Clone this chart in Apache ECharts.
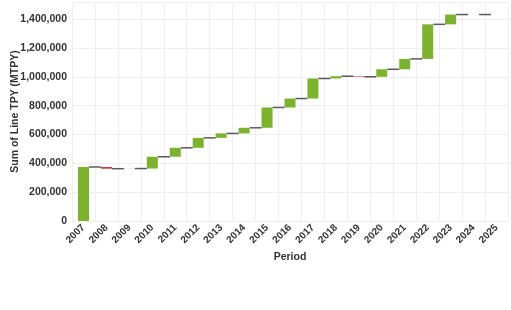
<!DOCTYPE html>
<html>
<head>
<meta charset="utf-8">
<script src="https://cdn.jsdelivr.net/npm/echarts@6/dist/echarts.min.js"></script>
<style>html,body{margin:0;padding:0;background:#fff}#c{width:511px;height:310px}</style>
</head>
<body>
<div id="c"></div>
<script>
const periods = ['2007','2008','2009','2010','2011','2012','2013','2014','2015','2016','2017','2018','2019','2020','2021','2022','2023','2024','2025'];
const changes = [375000,-12000,1000,82000,62000,69000,31000,39000,141000,62000,139000,16000,-4000,52000,72000,240000,68000,0,0];
const yTicks = [0,200000,400000,600000,800000,1000000,1200000,1400000];

const GREEN = '#7DB22F', RED = '#D2343F';
const BAR_FRAC = 0.48;
const FONT = 'Liberation Sans, Arial, sans-serif';

const cum = [];
let run = 0;
changes.forEach(c => { run += c; cum.push(run); });
const base = changes.map((c, i) => Math.min(i ? cum[i-1] : 0, cum[i]));
const delta = changes.map((c, i) => ({value: Math.abs(c), itemStyle: {color: c >= 0 ? GREEN : RED}}));
const connectors = cum.slice(0, -1).map((v, i) => [i, v]);

const chart = echarts.init(document.getElementById('c'), null, {renderer: 'canvas'});
chart.setOption({
  animation: false,
  grid: {left: 72, right: 3, top: 2, bottom: 89, containLabel: false, outerBoundsMode: 'none'},
  xAxis: {
    type: 'category', data: periods, boundaryGap: true,
    name: 'Period', nameLocation: 'middle', nameGap: 31, nameMoveOverlap: false,
    nameTextStyle: {fontFamily: FONT, fontWeight: 'bold', fontSize: 10.5, color: '#333'},
    axisLine: {show: true, lineStyle: {color: '#eeeeee'}},
    axisTick: {show: false},
    axisLabel: {rotate: 45, margin: 5, fontFamily: FONT, fontWeight: 'bold', fontSize: 10, color: '#333', interval: 0},
    splitLine: {show: true, lineStyle: {color: '#efefef', width: 1}}
  },
  yAxis: {
    type: 'value', min: 0, max: 1520000, interval: 200000,
    name: 'Sum of Line TPY (MTPY)', nameLocation: 'middle', nameGap: 51, nameMoveOverlap: false,
    nameTextStyle: {fontFamily: FONT, fontWeight: 'bold', fontSize: 10.5, color: '#333'},
    axisLine: {show: false}, axisTick: {show: false},
    axisLabel: {showMaxLabel: false, margin: 5, fontFamily: FONT, fontWeight: 'bold', fontSize: 10.5, color: '#333',
      formatter: v => yTicks.indexOf(v) >= 0 ? v.toLocaleString('en-US') : ''},
    splitLine: {show: true, lineStyle: {color: '#efefef', width: 1}}
  },
  series: [
    {type: 'bar', stack: 'w', data: base, barWidth: (BAR_FRAC*100)+'%', itemStyle: {color: 'rgba(0,0,0,0)'}, silent: true},
    {type: 'bar', stack: 'w', data: delta, barWidth: (BAR_FRAC*100)+'%'},
    {type: 'custom', data: connectors, z: 5,
      renderItem: function (params, api) {
        const p = api.coord([api.value(0), api.value(1)]);
        const bw = api.size([1, 0])[0];
        const half = bw * BAR_FRAC / 2;
        return {type: 'line', shape: {x1: p[0] + half, y1: p[1], x2: p[0] + bw - half, y2: p[1]},
          style: {stroke: '#5a5a5a', lineWidth: 1.5}};
      }}
  ]
});
</script>
</body>
</html>
